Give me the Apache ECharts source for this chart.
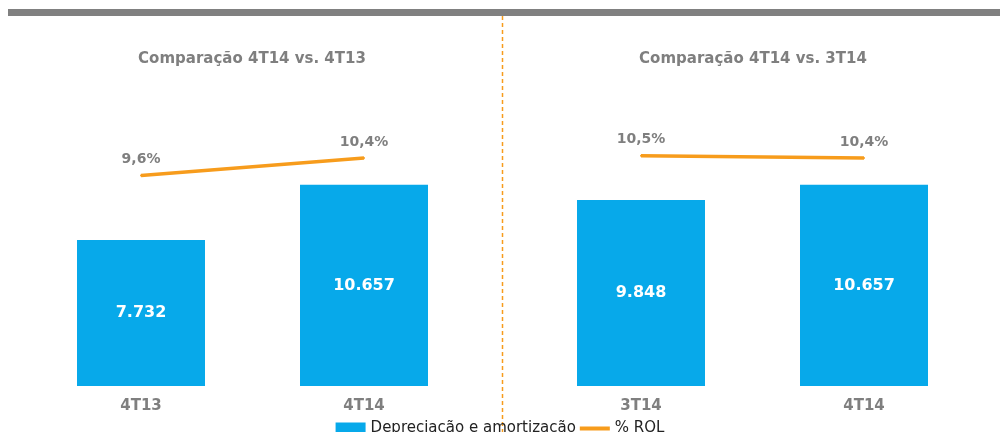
<!DOCTYPE html>
<html><head><meta charset="utf-8">
<script src="https://cdn.jsdelivr.net/npm/echarts@6/dist/echarts.min.js"></script>
<style>html,body{margin:0;padding:0;background:#fff}#c{width:1000px;height:432px}</style>
</head><body><div id="c"></div>
<script>
const panelTitles = ['Comparação 4T14 vs. 4T13', 'Comparação 4T14 vs. 3T14'];
const catsLeft = ['4T13', '4T14'];
const catsRight = ['3T14', '4T14'];
const barLeft = [7732, 10657];
const barRight = [9848, 10657];
const rolLeft = [9.6, 10.4];
const rolRight = [10.5, 10.4];
const barName = 'Depreciação e amortização';
const lineName = '% ROL';

const BLUE = '#07A9EA', ORANGE = '#F79C1C', GRAY = '#7F7F7F';
const FONT = 'DejaVu Sans';
const fmtBar = v => v.toLocaleString('de-DE');
const fmtPct = v => v.toFixed(1).replace('.', ',') + '%';

const grids = [
  {left: 29.5, width: 446, top: 84, height: 302},
  {left: 529.5, width: 446, top: 84, height: 302}
];
function xAxis(i, data) {
  return {type: 'category', gridIndex: i, data,
    axisLine: {show: false}, axisTick: {show: false},
    axisLabel: {color: GRAY, fontFamily: FONT, fontWeight: 'bold', fontSize: 15, margin: 13}};
}
function yAxis(i, max) {
  return {type: 'value', gridIndex: i, min: 0, max, show: false, splitLine: {show: false}};
}
function bar(i, data) {
  return {name: barName, type: 'bar', xAxisIndex: i, yAxisIndex: i * 2, data,
    barWidth: 128, itemStyle: {color: BLUE},
    label: {show: true, position: 'inside', color: '#fff', fontFamily: FONT, fontWeight: 'bold', fontSize: 16,
      formatter: p => fmtBar(p.value)}};
}
function line(i, data) {
  return {name: lineName, type: 'line', xAxisIndex: i, yAxisIndex: i * 2 + 1, data,
    symbol: 'circle', symbolSize: 2, showSymbol: true,
    lineStyle: {color: ORANGE, width: 3.5}, itemStyle: {color: ORANGE},
    labelLayout: {hideOverlap: false},
    label: {show: true, position: 'top', distance: 8, color: GRAY, fontFamily: FONT, fontWeight: 'bold', fontSize: 14,
      formatter: p => fmtPct(p.value)}};
}
const chart = echarts.init(document.getElementById('c'), null, {renderer: 'canvas'});
chart.setOption({
  animation: false,
  textStyle: {fontFamily: FONT},
  title: [
    {text: panelTitles[0], left: 247, top: 47, textAlign: 'center',
      textStyle: {color: GRAY, fontFamily: FONT, fontWeight: 'bold', fontSize: 15}},
    {text: panelTitles[1], left: 748, top: 47, textAlign: 'center',
      textStyle: {color: GRAY, fontFamily: FONT, fontWeight: 'bold', fontSize: 15}}
  ],
  grid: grids,
  xAxis: [xAxis(0, catsLeft), xAxis(1, catsRight)],
  yAxis: [yAxis(0, 16000), yAxis(0, 13.77), yAxis(1, 16000), yAxis(1, 13.77)],
  legend: {bottom: -9, left: 'center', itemWidth: 30, itemHeight: 12, itemGap: 4,
    textStyle: {color: '#222', fontFamily: FONT, fontSize: 15},
    data: [
      {name: barName, icon: 'rect', itemStyle: {color: BLUE}},
      {name: lineName, icon: 'path://M0,0L30,0L30,0.01L0,0.01ZM0,4L30,4L30,8L0,8ZM0,11.99L30,11.99L30,12L0,12Z',
        itemStyle: {color: ORANGE, opacity: 1, borderWidth: 0}}
    ]},
  series: [bar(0, barLeft), bar(1, barRight), line(0, rolLeft), line(1, rolRight)],
  graphic: [
    {type: 'rect', shape: {x: 8, y: 9, width: 992, height: 7}, style: {fill: '#808080'}},
    {type: 'line', shape: {x1: 502.5, y1: 16, x2: 502.5, y2: 432},
      style: {stroke: ORANGE, lineWidth: 1.5, lineDash: [4, 3]}}
  ]
});
</script></body></html>
